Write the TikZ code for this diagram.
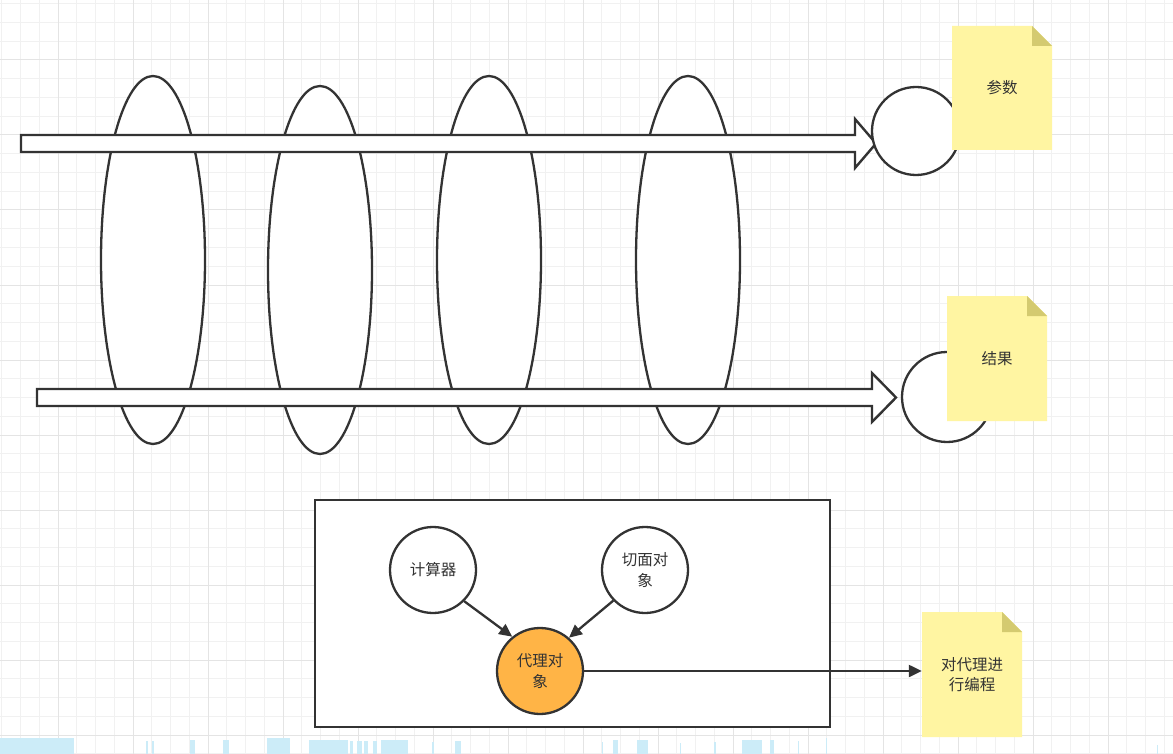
\documentclass[tikz,border=0pt]{standalone}
\usepackage{fontspec}
\setmainfont{Noto Sans CJK SC}
\usetikzlibrary{arrows.meta}
\definecolor{linecol}{HTML}{333333}
\definecolor{notefill}{RGB}{255,245,162}
\definecolor{foldfill}{RGB}{212,202,112}
\definecolor{orangefill}{RGB}{255,180,70}
\definecolor{minorgrid}{RGB}{241,241,241}
\definecolor{majorgrid}{RGB}{228,228,228}
\definecolor{artblue}{RGB}{204,236,248}
\tikzset{
  shapeline/.style={draw=linecol, line width=2.3pt, fill=white},
  bigarrow/.style={draw=linecol, line width=2.4pt, fill=white, line join=miter},
  roundnode/.style={circle, draw=linecol, line width=2.3pt, fill=white, minimum size=86pt, inner sep=0pt, align=center, text=linecol, font=\fontsize{15.5}{20.5}\selectfont},
  connector/.style={draw=linecol, line width=2.3pt, -{Triangle[length=13pt,width=12pt]}},
  notebox/.style={minimum width=100pt, minimum height=124pt, inner sep=0pt, align=center, text=linecol, font=\fontsize{15.5}{20.5}\selectfont,
    path picture={
      \fill[notefill] (path picture bounding box.south west) -- (path picture bounding box.north west) -- ([xshift=-20pt]path picture bounding box.north east) -- ([yshift=-20pt]path picture bounding box.north east) -- (path picture bounding box.south east) -- cycle;
      \fill[foldfill] ([xshift=-20pt]path picture bounding box.north east) -- ([xshift=-20pt,yshift=-20pt]path picture bounding box.north east) -- ([yshift=-20pt]path picture bounding box.north east) -- cycle;
    }},
}
\begin{document}
\begin{tikzpicture}[x=1pt,y=-1pt]
\useasboundingbox (0,0) rectangle (1173,754);
\fill[white] (0,0) rectangle (1173,754);
% grid
\foreach \i in {0,...,62} \draw[minorgrid, line width=1pt] ({1.75+18.75*\i},0) -- ({1.75+18.75*\i},754);
\foreach \i in {0,...,40} \draw[minorgrid, line width=1pt] (0,{3.75+18.75*\i}) -- (1173,{3.75+18.75*\i});
\foreach \i in {0,...,15} \draw[majorgrid, line width=1pt] ({58+75*\i},0) -- ({58+75*\i},754);
\foreach \i in {0,...,9} \draw[majorgrid, line width=1pt] (0,{60+75*\i}) -- (1173,{60+75*\i});
% bottom light blue artifacts
\foreach \a/\b/\t in {0/74/738, 146/148/741, 152/154/741, 190/195/740, 223/229/740, 267/290/738, 309/348/740, 350/353/741, 357/362/741, 364/368/741, 373/377/741, 381/408/740, 432/434/742, 455/461/741, 602/603/742, 613/618/740, 637/648/740, 680/681/743, 714/716/742, 742/762/740, 770/774/740, 798/799/741, 826/827/738, 1157/1158/745}
  \fill[artblue] (\a,\t) rectangle (\b,754);
% ellipses
\draw[shapeline] (153,260) ellipse [x radius=52, y radius=184];
\draw[shapeline] (320,270) ellipse [x radius=52, y radius=184];
\draw[shapeline] (489,260) ellipse [x radius=52, y radius=184];
\draw[shapeline] (688,260) ellipse [x radius=52, y radius=184];
% big arrows
\draw[bigarrow] (21,135) -- (855,135) -- (855,119) -- (876,143.5) -- (855,168) -- (855,152) -- (21,152) -- cycle;
\draw[bigarrow] (37,389) -- (872,389) -- (872,373) -- (896,397.5) -- (872,422) -- (872,406) -- (37,406) -- cycle;
% circles at the right
\node[roundnode, minimum size=88pt] (c1) at (916,131) {};
\node[roundnode, minimum size=90pt] (c2) at (947,397) {};
% notes
\node[notebox] (n1) at (1002,88) {参数};
\node[notebox, minimum height=125pt] (n2) at (997,358.5) {结果};
% frame
\draw[draw=linecol, line width=2.3pt, fill=white] (315,500) rectangle (830,727);
\node[roundnode] (calc) at (433,570) {计算器};
\node[roundnode] (aspect) at (645,570) {切面对\\象};
\node[roundnode, fill=orangefill] (proxy) at (540,671) {代理对\\象};
\node[notebox, minimum height=125pt] (n3) at (972,674.5) {对代理进\\行编程};
\draw[connector] (calc.-45) -- (proxy.129);
\draw[connector] (aspect.224) -- (proxy.49);
\draw[connector] (proxy) -- (n3.west |- proxy);
\end{tikzpicture}
\end{document}
